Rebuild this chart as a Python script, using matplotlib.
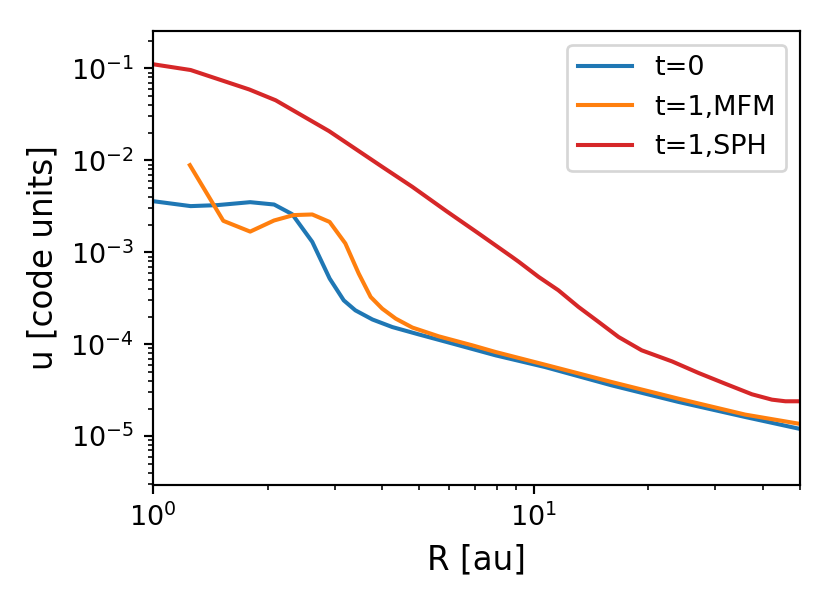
import numpy as np
import matplotlib
matplotlib.use('Agg')
import matplotlib.pyplot as plt

# radius [au] and specific internal energy [code units]
r_t0 = [1.0, 1.256, 1.475, 1.80, 2.08, 2.32, 2.62, 2.91, 3.17, 3.40, 3.77,
        4.25, 4.99, 6.11, 7.94, 10.7, 16.0, 24.0, 35.9, 49.6]
u_t0 = [3.60e-3, 3.18e-3, 3.26e-3, 3.51e-3, 3.31e-3, 2.60e-3, 1.30e-3, 5.19e-4,
        3.0e-4, 2.34e-4, 1.86e-4, 1.54e-4, 1.28e-4, 1.02e-4, 7.58e-5, 5.66e-5,
        3.58e-5, 2.36e-5, 1.62e-5, 1.21e-5]

r_mfm = [1.25, 1.53, 1.80, 2.08, 2.34, 2.62, 2.91, 3.20, 3.47, 3.73, 4.0,
         4.34, 4.80, 5.63, 6.89, 7.94, 10.7, 16.0, 24.0, 35.9, 49.6]
u_mfm = [8.87e-3, 2.20e-3, 1.68e-3, 2.22e-3, 2.54e-3, 2.58e-3, 2.14e-3, 1.25e-3,
         5.87e-4, 3.27e-4, 2.44e-4, 1.90e-4, 1.52e-4, 1.22e-4, 9.75e-5, 8.24e-5,
         6.0e-5, 3.89e-5, 2.56e-5, 1.72e-5, 1.37e-5]

r_sph = [1.0, 1.256, 1.79, 2.10, 2.90, 4.0, 4.80, 5.9, 7.17, 8.77, 9.14, 10.3,
         11.6, 13.1, 14.8, 16.7, 19.2, 23.1, 27.1, 31.8, 37.4, 42.2, 45.8, 49.6]
u_sph = [0.111, 0.096, 0.059, 0.045, 0.0208, 8.5e-3, 5.15e-3, 2.8e-3, 1.60e-3,
         8.9e-4, 7.87e-4, 5.4e-4, 3.87e-4, 2.55e-4, 1.75e-4, 1.20e-4, 8.6e-5,
         6.5e-5, 4.87e-5, 3.73e-5, 2.86e-5, 2.50e-5, 2.40e-5, 2.40e-5]

dpi = 195
fig = plt.figure(figsize=(830 / dpi, 608 / dpi), dpi=dpi)
ax = fig.add_axes([0.1843, 0.2023, 0.7795, 0.7467])

ax.plot(r_t0, u_t0, color='tab:blue', lw=1.5, label='t=0')
ax.plot(r_mfm, u_mfm, color='tab:orange', lw=1.5, label='t=1,MFM')
ax.plot(r_sph, u_sph, color='tab:red', lw=1.5, label='t=1,SPH')

ax.set_xscale('log')
ax.set_yscale('log')
ax.set_xlim(1, 50)
ax.set_ylim(2.95e-6, 0.255)

ax.set_xlabel('R [au]', fontsize=12)
ax.set_ylabel('u [code units]', fontsize=12)
ax.tick_params(labelsize=10)

ax.legend(loc='upper right', fontsize=10)

plt.savefig('out.png', dpi=dpi)
